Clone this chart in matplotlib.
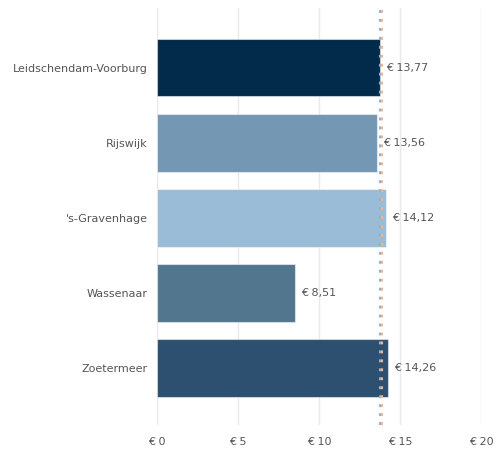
import matplotlib
matplotlib.use("Agg")
import matplotlib.pyplot as plt

gemeenten = ["Leidschendam-Voorburg", "Rijswijk", "'s-Gravenhage", "Wassenaar", "Zoetermeer"]
bedragen = [13.77, 13.56, 14.12, 8.51, 14.26]
kleuren = ["#022b4b", "#7498b3", "#9bbcd6", "#53768f", "#2d5070"]
ref_blauw = 13.77
ref_oranje = 13.90
xticks = [0, 5, 10, 15, 20]
xtick_labels = ["€ 0", "€ 5", "€ 10", "€ 15", "€ 20"]

plt.rcParams['font.family'] = ['DejaVu Sans']
fig = plt.figure(figsize=(4.96, 4.5), dpi=100)
ax = fig.add_axes([0.317, 0.056, 0.653, 0.926])

y = range(len(gemeenten))
ax.barh(y, bedragen, height=0.77, color=kleuren,
        edgecolor=(1, 1, 1, 0.5), linewidth=0.8, zorder=2)

for yi, v in zip(y, bedragen):
    ax.annotate("€ " + f"{v:.2f}".replace(".", ","), (v, yi),
                xytext=(4.5, 0), textcoords="offset points",
                va="center", ha="left", fontsize=8, color="#555555")

ax.axvline(ref_blauw, color="#8fb2d3", lw=1.5, ls=(0, (1.4, 2.9)), zorder=3)
ax.axvline(ref_oranje, color="#f2b48e", lw=1.5, ls=(0, (1.4, 2.9)), zorder=3)

ax.set_xlim(0, 20)
ax.set_ylim(4.75, -0.79)
ax.set_xticks(xticks)
ax.set_xticklabels(xtick_labels)
ax.set_yticks(list(y))
ax.set_yticklabels(gemeenten)
ax.tick_params(axis="both", length=0, labelsize=8, colors="#555555")
ax.tick_params(axis="x", pad=9)
ax.tick_params(axis="y", pad=7)
ax.grid(axis="x", color="#e8e8ee", lw=1, zorder=0)
ax.set_axisbelow(True)
for s in ax.spines.values():
    s.set_visible(False)

fig.savefig("out.png", dpi=100)
